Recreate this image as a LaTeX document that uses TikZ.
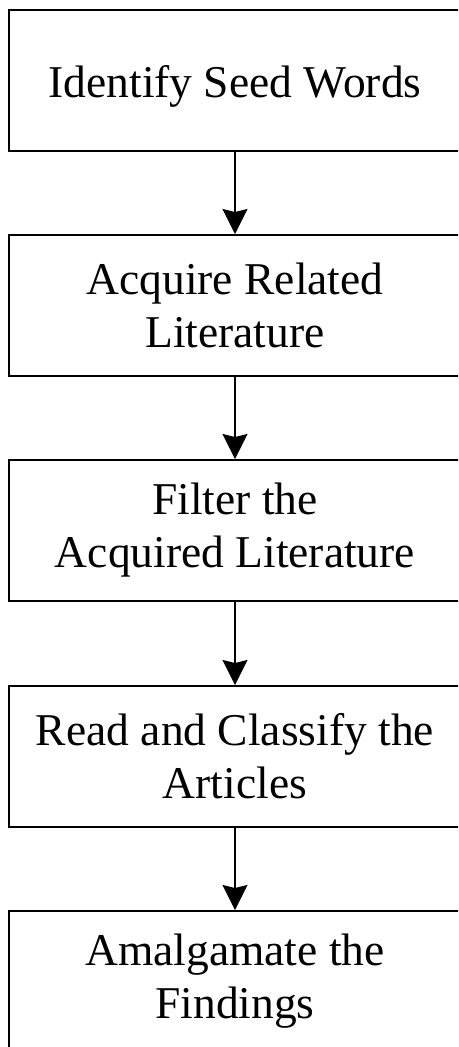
\documentclass[tikz,border=0pt]{standalone}
\usepackage{fontspec}
\setmainfont{Liberation Serif}
\usetikzlibrary{arrows.meta}
\begin{document}
\begin{tikzpicture}[x=1pt,y=1pt,
  stepbox/.style={draw=black, line width=2pt, minimum width=453pt, minimum height=141pt,
    inner sep=0pt, align=center, font=\fontsize{45.5}{53}\selectfont},
  oneline/.style={text height=35pt, text depth=1pt},
  flow/.style={line width=1.9pt, -{Stealth[length=25pt,width=25pt,inset=3pt]}}]
  % page frame and clipping to the visible area
  \useasboundingbox (0,0) rectangle (458,-1047);
  \clip (0,0) rectangle (458,-1047);
  % process steps
  \node[stepbox,oneline] (s1) at (235,-80) {Identify Seed Words};
  \node[stepbox] (s2) at (235,-305.5) {Acquire Related\\Literature};
  \node[stepbox] (s3) at (235,-530.5) {Filter the\\Acquired Literature};
  \node[stepbox] (s4) at (235,-756.5) {Read and Classify the\\Articles};
  \node[stepbox] (s5) at (235,-981.5) {Amalgamate the\\Findings};
  % connectors
  \draw[flow] (s1.south) -- (s2.north);
  \draw[flow] (s2.south) -- (s3.north);
  \draw[flow] (s3.south) -- (s4.north);
  \draw[flow] (s4.south) -- (s5.north);
\end{tikzpicture}
\end{document}
